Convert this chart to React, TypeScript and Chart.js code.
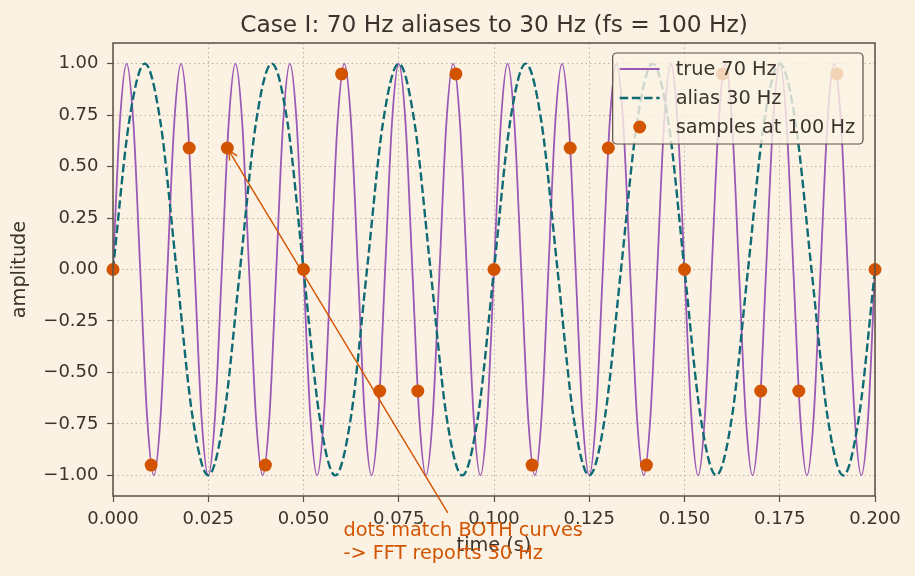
import React, { useEffect, useRef } from "react";
import { Chart, registerables } from "chart.js";

Chart.register(...registerables);

// ---- data ----
const TITLE = "Case I: 70 Hz aliases to 30 Hz (fs = 100 Hz)";
const X_LABEL = "time (s)";
const Y_LABEL = "amplitude";
const LEGEND_LABELS = ["true 70 Hz", "alias 30 Hz", "samples at 100 Hz"];
const ANNOT_LINES = ["dots match BOTH curves", "-> FFT reports 30 Hz"];

const X_TICKS = [0, 0.025, 0.05, 0.075, 0.1, 0.125, 0.15, 0.175, 0.2];
const Y_TICKS = [-1, -0.75, -0.5, -0.25, 0, 0.25, 0.5, 0.75, 1];

// true 70 Hz trace, read every 1/560 s (eighth of a period)
const TRUE_DT = 1 / 560;
const TRUE_70 = [
  0, 0.71, 1, 0.71, 0, -0.71, -1, -0.71,
  0, 0.71, 1, 0.71, 0, -0.71, -1, -0.71,
  0, 0.71, 1, 0.71, 0, -0.71, -1, -0.71,
  0, 0.71, 1, 0.71, 0, -0.71, -1, -0.71,
  0, 0.71, 1, 0.71, 0, -0.71, -1, -0.71,
  0, 0.71, 1, 0.71, 0, -0.71, -1, -0.71,
  0, 0.71, 1, 0.71, 0, -0.71, -1, -0.71,
  0, 0.71, 1, 0.71, 0, -0.71, -1, -0.71,
  0, 0.71, 1, 0.71, 0, -0.71, -1, -0.71,
  0, 0.71, 1, 0.71, 0, -0.71, -1, -0.71,
  0, 0.71, 1, 0.71, 0, -0.71, -1, -0.71,
  0, 0.71, 1, 0.71, 0, -0.71, -1, -0.71,
  0, 0.71, 1, 0.71, 0, -0.71, -1, -0.71,
  0, 0.71, 1, 0.71, 0, -0.71, -1, -0.71,
  0,
];

// alias 30 Hz trace, read every 1/240 s (eighth of a period)
const ALIAS_DT = 1 / 240;
const ALIAS_30 = [
  0, 0.71, 1, 0.71, 0, -0.71, -1, -0.71,
  0, 0.71, 1, 0.71, 0, -0.71, -1, -0.71,
  0, 0.71, 1, 0.71, 0, -0.71, -1, -0.71,
  0, 0.71, 1, 0.71, 0, -0.71, -1, -0.71,
  0, 0.71, 1, 0.71, 0, -0.71, -1, -0.71,
  0, 0.71, 1, 0.71, 0, -0.71, -1, -0.71,
  0,
];

const SAMPLE_T = [
  0, 0.01, 0.02, 0.03, 0.04, 0.05, 0.06, 0.07, 0.08, 0.09, 0.1,
  0.11, 0.12, 0.13, 0.14, 0.15, 0.16, 0.17, 0.18, 0.19, 0.2,
];
const SAMPLE_V = [
  0, -0.95, 0.59, 0.59, -0.95, 0, 0.95, -0.59, -0.59, 0.95, 0,
  -0.95, 0.59, 0.59, -0.95, 0, 0.95, -0.59, -0.59, 0.95, 0,
];

const ANNOT_TARGET_INDEX = 3; // arrow points to the sample at t = 0.03
const ANNOT_TEXT_POS = { x: 0.0605, y: -1.294 }; // data coords of first line baseline

// ---- styles ----
const BG = "#fbf2e4";
const INK = "#3a342d";
const FRAME = "#5a5044";
const GRID = "#bcb3a4";
const PURPLE = "#9b59b6";
const TEAL = "#0f6b73";
const ORANGE = "#d35400";
const FONT = "'DejaVu Sans', sans-serif";
const TICK_FS = 18;
const TEXT_FS = 19.3;
const TITLE_FS = 23.3;
const DASH = [8.5, 3.7];

const decoPlugin = {
  id: "deco",
  beforeDraw(chart: any) {
    const { ctx, width, height } = chart;
    ctx.save();
    ctx.fillStyle = BG;
    ctx.fillRect(0, 0, width, height);
    ctx.restore();
  },
  afterDraw(chart: any) {
    const { ctx, chartArea: a } = chart;
    const xs = chart.scales.x;
    const ys = chart.scales.y;
    ctx.save();

    // frame
    ctx.strokeStyle = FRAME;
    ctx.lineWidth = 1.5;
    ctx.strokeRect(a.left, a.top, a.right - a.left, a.bottom - a.top);

    // title
    ctx.fillStyle = INK;
    ctx.font = `${TITLE_FS}px ${FONT}`;
    ctx.textAlign = "center";
    ctx.textBaseline = "alphabetic";
    ctx.fillText(TITLE, (a.left + a.right) / 2, 32);

    // axis labels
    ctx.font = `${TEXT_FS}px ${FONT}`;
    ctx.fillText(X_LABEL, (a.left + a.right) / 2, 551);
    ctx.save();
    ctx.translate(25, (a.top + a.bottom) / 2);
    ctx.rotate(-Math.PI / 2);
    ctx.fillText(Y_LABEL, 0, 0);
    ctx.restore();

    // annotation
    ctx.font = `${TEXT_FS}px ${FONT}`;
    ctx.textAlign = "left";
    ctx.fillStyle = ORANGE;
    const tx = xs.getPixelForValue(ANNOT_TEXT_POS.x);
    const ty = ys.getPixelForValue(ANNOT_TEXT_POS.y);
    const lh = 23;
    let maxW = 0;
    ANNOT_LINES.forEach((l, i) => {
      ctx.fillText(l, tx, ty + i * lh);
      maxW = Math.max(maxW, ctx.measureText(l).width);
    });
    const boxTop = ty - 23;
    const boxBot = ty + lh + 5;
    const cx = tx + maxW / 2;
    const cy = (boxTop + boxBot) / 2;
    const px = xs.getPixelForValue(SAMPLE_T[ANNOT_TARGET_INDEX]);
    const py = ys.getPixelForValue(SAMPLE_V[ANNOT_TARGET_INDEX]);
    const dx = px - cx;
    const dy = py - cy;
    const t0 = (cy - boxTop) / -dy;
    const sx = cx + dx * t0;
    const sy = cy + dy * t0;
    const len = Math.hypot(px - sx, py - sy);
    const ux = (px - sx) / len;
    const uy = (py - sy) / len;
    const ex = px - ux * 3;
    const ey = py - uy * 3;
    ctx.strokeStyle = ORANGE;
    ctx.lineWidth = 1.4;
    ctx.beginPath();
    ctx.moveTo(sx, sy);
    ctx.lineTo(ex, ey);
    const hl = 9;
    const hw = 4.5;
    ctx.moveTo(ex - ux * hl - uy * hw, ey - uy * hl + ux * hw);
    ctx.lineTo(ex, ey);
    ctx.lineTo(ex - ux * hl + uy * hw, ey - uy * hl - ux * hw);
    ctx.stroke();

    // legend
    ctx.font = `${TEXT_FS}px ${FONT}`;
    const textW = Math.max(...LEGEND_LABELS.map((l) => ctx.measureText(l).width));
    const lw = 7 + 40 + 16 + textW + 8;
    const lh2 = 91;
    const lx = a.right - 12 - lw;
    const ly = a.top + 10;
    ctx.beginPath();
    ctx.roundRect(lx, ly, lw, lh2, 4);
    ctx.fillStyle = "rgba(251,242,228,0.8)";
    ctx.fill();
    ctx.strokeStyle = FRAME;
    ctx.lineWidth = 1.2;
    ctx.stroke();
    const rowY = [ly + 16, ly + 45, ly + 74];
    const hx0 = lx + 7;
    const hx1 = hx0 + 40;
    // purple
    ctx.strokeStyle = PURPLE;
    ctx.lineWidth = 1.8;
    ctx.setLineDash([]);
    ctx.beginPath();
    ctx.moveTo(hx0, rowY[0]);
    ctx.lineTo(hx1, rowY[0]);
    ctx.stroke();
    // teal dashed
    ctx.strokeStyle = TEAL;
    ctx.lineWidth = 2.4;
    ctx.setLineDash(DASH);
    ctx.beginPath();
    ctx.moveTo(hx0, rowY[1]);
    ctx.lineTo(hx1, rowY[1]);
    ctx.stroke();
    ctx.setLineDash([]);
    // dot
    ctx.fillStyle = ORANGE;
    ctx.beginPath();
    ctx.arc((hx0 + hx1) / 2, rowY[2], 6.5, 0, Math.PI * 2);
    ctx.fill();
    // labels
    ctx.fillStyle = INK;
    ctx.textBaseline = "middle";
    LEGEND_LABELS.forEach((l, i) => ctx.fillText(l, hx1 + 16, rowY[i] + 1));

    ctx.restore();
  },
};

export default function App() {
  const ref = useRef<HTMLCanvasElement | null>(null);
  useEffect(() => {
    document.body.style.margin = "0";
    const canvas = ref.current!;
    const trueData = TRUE_70.map((v, i) => ({ x: i * TRUE_DT, y: v }));
    const aliasData = ALIAS_30.map((v, i) => ({ x: i * ALIAS_DT, y: v }));
    const sampleData = SAMPLE_T.map((t, i) => ({ x: t, y: SAMPLE_V[i] }));
    const tickFont = { family: FONT, size: TICK_FS };
    const chart = new Chart(canvas, {
      type: "scatter",
      data: {
        datasets: [
          {
            label: LEGEND_LABELS[2],
            data: sampleData,
            backgroundColor: ORANGE,
            borderColor: ORANGE,
            pointRadius: 6.5,
            borderWidth: 0,
            showLine: false,
            clip: false,
            order: 0,
          } as any,
          {
            label: LEGEND_LABELS[1],
            data: aliasData,
            borderColor: TEAL,
            borderWidth: 2.4,
            borderDash: DASH,
            pointRadius: 0,
            showLine: true,
            cubicInterpolationMode: "monotone",
            order: 1,
          },
          {
            label: LEGEND_LABELS[0],
            data: trueData,
            borderColor: PURPLE,
            borderWidth: 1.8,
            pointRadius: 0,
            showLine: true,
            cubicInterpolationMode: "monotone",
            order: 2,
          },
        ],
      },
      options: {
        responsive: false,
        devicePixelRatio: 1,
        animation: false,
        events: [],
        layout: { padding: { left: 0, top: 43, right: 40, bottom: 0 } },
        plugins: { legend: { display: false }, title: { display: false }, tooltip: { enabled: false } },
        scales: {
          x: {
            type: "linear",
            min: 0,
            max: 0.2,
            afterBuildTicks: (s: any) => {
              s.ticks = X_TICKS.map((v) => ({ value: v }));
            },
            afterFit: (s: any) => {
              s.height = 80;
            },
            ticks: {
              callback: (v: any) => Number(v).toFixed(3),
              font: tickFont,
              color: INK,
              padding: 7,
              maxRotation: 0,
              autoSkip: false,
            },
            grid: { color: GRID, lineWidth: 1, tickColor: FRAME, tickLength: 6, tickBorderDash: [], tickWidth: 1.2 } as any,
            border: { display: false, dash: [1.5, 3] },
          },
          y: {
            type: "linear",
            min: -1.1,
            max: 1.1,
            afterBuildTicks: (s: any) => {
              s.ticks = Y_TICKS.map((v) => ({ value: v }));
            },
            afterFit: (s: any) => {
              s.width = 113;
            },
            ticks: {
              callback: (v: any) => Number(v).toFixed(2).replace("-", "\u2212"),
              font: tickFont,
              color: INK,
              padding: 8.5,
              autoSkip: false,
            },
            grid: { color: GRID, lineWidth: 1, tickColor: FRAME, tickLength: 6, tickBorderDash: [], tickWidth: 1.2 } as any,
            border: { display: false, dash: [1.5, 3] },
          },
        },
      },
      plugins: [decoPlugin],
    });
    return () => chart.destroy();
  }, []);
  return (
    <div style={{ position: "absolute", left: 0, top: 0, width: 915, height: 576 }}>
      <canvas ref={ref} width={915} height={576} style={{ display: "block" }} />
    </div>
  );
}
